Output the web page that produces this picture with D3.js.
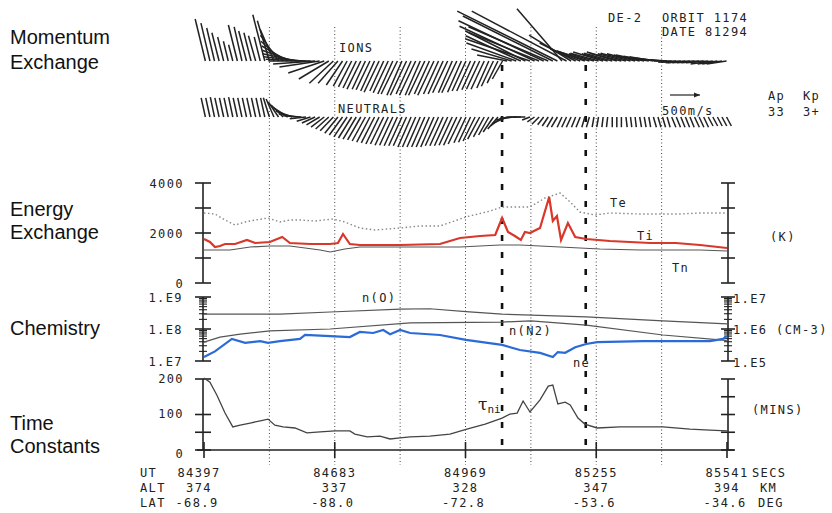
<!DOCTYPE html>
<html>
<head>
<meta charset="utf-8">
<script src="https://cdn.jsdelivr.net/npm/d3@7"></script>
<style>
  body { margin: 0; background: #fff; }
  svg text { font-family: "DejaVu Sans Mono", monospace; font-size: 12px; fill: #222; letter-spacing: 1.4px; }
  svg text.lab { font-family: "Liberation Sans", Arial, sans-serif; font-size: 20px; fill: #111; letter-spacing: 0; }
</style>
</head>
<body>
<svg id="chart" width="832" height="513"></svg>
<script>
// --- data ---
const utTicks = [84397, 84683, 84969, 85255, 85541];
const altLabels = ["374", "337", "328", "347", "394"];
const latLabels = ["-68.9", "-88.0", "-72.8", "-53.6", "-34.6"];
const gridTimes = [84540, 84683, 84826, 84969, 85112, 85255, 85398];
const boundTimes = [85049, 85232];

// velocity vectors (m/s), one every 10 s from 84400
const vecT0 = 84400, vecDt = 10;
const ionE = [-170,-150,-130,-120,-100,-80,-70,
  -150,-130,-130,-120,-120,-100,
  -200,-200,-230,
  -300,-370,-430,-500,-570,-630,-670,-700,-700,-670,
  -600,-500,-400,-330,-270,
  -230,-220,-220,-230,-220,-230,-230,-250,-230,-250,
  -250,-270,-250,-270,-250,-270,-250,-270,-250,-270,
  -250,-250,-250,-230,-250,-230,-230,-230,-220,-220,
  -220,-200,-200,-180,-170,
  -500,-670,-830,-920,-1000,-1080,-1250,-1170,-1420,-1330,-1500,-1670,-750,-1580,-700,-600,-500,
  -470,-500,-420,-470,-500,-430,-470,-500,-530,-470,-500,-470,-430,-470,-420,-400,-370,-330,
  -300,-300,-300,-330,-330,-370,-370,-370,-370,-370,-370,-330,-330,-330];
const ionN = [700,630,550,470,400,330,270,
  600,570,500,470,420,400,
  770,670,530,
  430,330,250,180,120,70,30,0,-50,-100,
  -200,-300,-370,-370,-400,
  -420,-430,-450,-470,-470,-480,-500,-520,-500,-530,
  -550,-550,-570,-570,-550,-570,-570,-570,-550,-570,
  -550,-550,-530,-530,-530,-520,-500,-500,-480,-470,
  -470,-450,-420,-370,-300,
  100,200,300,420,500,370,580,470,670,570,750,830,870,830,430,300,200,
  170,150,120,130,150,120,130,150,130,120,130,120,100,100,80,70,50,30,
  20,0,-20,-20,-30,-30,-30,-30,-30,-30,-50,-50,-50,-50];
const neuE = [-70,-70,-70,-70,-70,-70,-70,-70,-70,-70,-70,-70,-70,-70,
  -100,-130,-170,-200,-230,-270,-300,-300,
  -270,-230,
  -220,-220,-220,-220,-220,-220,-220,-220,-220,-220,-220,
  -220,-220,-220,-220,-220,-220,-220,-220,-220,-220,-220,
  -220,-220,-220,-220,-220,-220,-220,-220,-220,-220,-220,
  -200,-200,-200,-200,
  -180,-170,
  -170,-170,-200,-230,
  -270,-270,-230,-200,
  -130,-120,-120,-100,
  -100,-100,-100,-80,-80,-80,-70,-70,
  -50,-50,-30,-30,-20,-20,0,0,
  0,20,20,20,30,30,30,50,50,50,
  50,70,70,70,70,70,80,80,80,80,80,80,80,80];
const neuN = [320,320,330,320,320,320,330,320,320,320,320,320,320,320,
  320,300,250,200,150,100,50,20,
  -30,-70,-100,-130,-170,-200,-230,-270,-300,-330,-350,-370,-380,-400,-420,-430,-450,-450,-470,-470,-480,-480,-480,-500,
  -500,-500,-500,-500,-500,-480,-480,-480,-470,-470,-450,
  -430,-420,-400,-370,
  -330,-300,
  -250,-200,-150,-100,
  -50,-20,0,0,
  -50,-80,-120,-130,
  -150,-170,-170,-170,-170,-170,-170,-170,
  -170,-170,-170,-170,-170,-170,-170,-170,
  -170,-170,-170,-170,-170,-170,-170,-170,-170,-170,
  -170,-170,-170,-170,-170,-170,-170,-170,-170,-150,-150,-150,-150,-150];

// temperatures (K)
const tiT = [84397,84410,84421,84432,84443,84465,84491,84509,84541,84568,84585,84629,84673,84690,84701,84716,84738,84826,84913,84957,85001,85034,85049,85062,85077,85090,85099,85110,85123,85132,85152,85160,85169,85178,85193,85209,85233,85285,85373,85429,85482,85541];
const tiV = [1760,1640,1440,1480,1560,1560,1720,1600,1640,1840,1600,1560,1560,1600,1960,1560,1520,1520,1560,1800,1880,1920,2600,2040,1880,1720,2040,2000,2120,2200,3440,2480,2680,1720,2400,1840,1760,1680,1600,1600,1520,1400];
const teT = [84397,84421,84443,84465,84487,84509,84537,84563,84585,84607,84640,84679,84705,84738,84771,84826,84869,84913,84970,85023,85049,85110,85143,85176,85198,85219,85252,85285,85351,85438,85482,85541];
const teV = [2800,2760,2520,2320,2440,2520,2600,2440,2520,2520,2480,2560,2440,2200,2120,2200,2280,2280,2640,2880,3040,3040,3400,3600,3240,2840,2720,2800,2760,2760,2800,2800];
const tnT = [84397,84454,84498,84541,84585,84618,84651,84673,84705,84738,84826,84957,85044,85088,85176,85263,85351,85482,85541];
const tnV = [1320,1320,1440,1480,1480,1400,1320,1240,1360,1440,1440,1440,1520,1520,1440,1360,1320,1320,1280];

// densities (cm-3)
const noT = [84397,84563,84673,84826,84891,84970,85049,85233,85401,85541];
const noV = [2.9e8,2.9e8,3.4e8,4.2e8,4.3e8,3.5e8,2.9e8,2.4e8,1.8e8,1.45e8];
const nn2T = [84397,84432,84476,84541,84673,84848,85049,85112,85233,85401,85532,85541];
const nn2V = [3.9e7,5.6e7,6.9e7,8.7e7,1.0e8,1.55e8,1.65e8,1.8e8,1.33e8,6.5e7,4.5e7,4.3e7];
const neT = [84397,84421,84458,84487,84520,84537,84563,84607,84618,84673,84716,84738,84767,84789,84804,84826,84848,84913,84970,85049,85088,85132,85160,85171,85187,85209,85233,85257,85357,85504,85532,85541];
const neV = [1.33e5,2.0e5,4.9e5,3.7e5,4.2e5,3.7e5,4.2e5,4.9e5,6.5e5,6.0e5,5.6e5,8.1e5,7.5e5,9.3e5,6.9e5,9.3e5,7.5e5,6.5e5,4.6e5,3.2e5,2.2e5,1.8e5,1.33e5,1.9e5,1.8e5,2.7e5,3.4e5,3.9e5,4.2e5,4.2e5,4.9e5,6.0e5];

// ion-neutral time constant (mins)
const tauT = [84397,84410,84425,84443,84460,84476,84498,84520,84537,84552,84570,84596,84622,84651,84684,84716,84727,84754,84782,84804,84826,84848,84891,84935,84972,85012,85049,85066,85082,85095,85110,85132,85150,85160,85171,85187,85198,85215,85230,85257,85307,85401,85460,85504,85541];
const tauV = [203,191,155,104,65,70,76,82,87,70,65,62,48,51,54,54,45,37,39,31,34,37,39,45,59,73,90,101,104,138,107,141,180,183,130,135,127,90,73,62,65,65,59,56,54];

// --- scales ---
const svg = d3.select('#chart');
const x = d3.scaleLinear().domain([84397, 85541]).range([204, 727]);
const yT = d3.scaleLinear().domain([0, 4000]).range([283, 183]);
const yN = d3.scaleLog().domain([1e7, 1e9]).range([361, 297]);
const yNe = d3.scaleLog().domain([1e5, 1e7]).range([361, 297]);
const yTau = d3.scaleLinear().domain([0, 200]).range([450, 379]);
const vel = d3.scaleLinear().domain([0, 500]).range([0, 30]);

const ink = '#222';

// vertical reference lines
svg.append('g').selectAll('line').data(gridTimes).join('line')
  .attr('x1', d => x(d)).attr('x2', d => x(d))
  .attr('y1', 27).attr('y2', 465)
  .attr('stroke', '#444').attr('stroke-width', 1).attr('stroke-dasharray', '1,2.5');

svg.append('g').selectAll('line').data(boundTimes).join('line')
  .attr('x1', d => x(d)).attr('x2', d => x(d))
  .attr('y1', 65).attr('y2', 450)
  .attr('stroke', '#111').attr('stroke-width', 2.6).attr('stroke-dasharray', '6,11');

// stick plots
function sticks(E, N, base) {
  svg.append('g').selectAll('line').data(E).join('line')
    .attr('x1', (d, i) => x(vecT0 + i * vecDt))
    .attr('y1', base)
    .attr('x2', (d, i) => x(vecT0 + i * vecDt) + vel(d))
    .attr('y2', (d, i) => base - vel(N[i]))
    .attr('stroke', ink).attr('stroke-width', 1.5);
}
sticks(ionE, ionN, 61);
sticks(neuE, neuN, 117);

// 500 m/s scale arrow
const ax0 = 670;
svg.append('line').attr('x1', ax0).attr('x2', ax0 + vel(500)).attr('y1', 95).attr('y2', 95)
  .attr('stroke', ink).attr('stroke-width', 1.2);
svg.append('path').attr('d', `M${ax0 + vel(500)},95 l-6,-2.5 l0,5 z`).attr('fill', ink);

// axis helper: ticks cross the axis line
function vAxis(xp, scale, majors, minors, half) {
  const g = svg.append('g').attr('stroke', ink).attr('stroke-width', 1.6);
  const r = scale.range();
  g.append('line').attr('x1', xp).attr('x2', xp).attr('y1', r[0]).attr('y2', r[1]);
  g.selectAll('.mj').data(majors).join('line').attr('class', 'mj')
    .attr('x1', xp - half).attr('x2', xp + half)
    .attr('y1', d => scale(d)).attr('y2', d => scale(d));
  g.selectAll('.mn').data(minors).join('line').attr('class', 'mn')
    .attr('stroke-width', 1.1)
    .attr('x1', xp - 4).attr('x2', xp + 4)
    .attr('y1', d => scale(d)).attr('y2', d => scale(d));
}
const logMinor = [2e7,3e7,4e7,5e7,6e7,7e7,8e7,9e7,2e8,3e8,4e8,5e8,6e8,7e8,8e8,9e8];
vAxis(203, yT, [0, 1000, 2000, 3000, 4000], [], 8);
vAxis(728, yT, [0, 1000, 2000, 3000, 4000], [], 7);
vAxis(203, yN, [1e7, 1e8, 1e9], logMinor, 8);
vAxis(728, yN, [1e7, 1e8, 1e9], logMinor, 7);
vAxis(203, yTau, [0, 50, 100, 200], [], 8);
vAxis(728, yTau, [0, 50, 100, 150, 200], [], 7);

// time axis along bottom
const bx = svg.append('g').attr('stroke', ink).attr('stroke-width', 1.6);
bx.append('line').attr('x1', 197).attr('x2', 734).attr('y1', 450).attr('y2', 450);
bx.selectAll('.ut').data(utTicks).join('line').attr('class', 'ut')
  .attr('x1', d => x(d)).attr('x2', d => x(d)).attr('y1', 442).attr('y2', 458);

// data lines
const line = (sy) => d3.line().x(d => x(d[0])).y(d => sy(d[1]));
svg.append('path').datum(d3.zip(teT, teV)).attr('d', line(yT))
  .attr('fill', 'none').attr('stroke', '#888').attr('stroke-width', 1.4).attr('stroke-dasharray', '1.5,2.5');
svg.append('path').datum(d3.zip(tnT, tnV)).attr('d', line(yT))
  .attr('fill', 'none').attr('stroke', '#555').attr('stroke-width', 1.2);
svg.append('path').datum(d3.zip(tiT, tiV)).attr('d', line(yT))
  .attr('fill', 'none').attr('stroke', '#d8372a').attr('stroke-width', 2.2);

svg.append('path').datum(d3.zip(noT, noV)).attr('d', line(yN))
  .attr('fill', 'none').attr('stroke', '#555').attr('stroke-width', 1.2);
svg.append('path').datum(d3.zip(nn2T, nn2V)).attr('d', line(yN))
  .attr('fill', 'none').attr('stroke', '#555').attr('stroke-width', 1.2);
svg.append('path').datum(d3.zip(neT, neV)).attr('d', line(yNe))
  .attr('fill', 'none').attr('stroke', '#2a6bd8').attr('stroke-width', 2.2);

svg.append('path').datum(d3.zip(tauT, tauV)).attr('d', line(yTau))
  .attr('fill', 'none').attr('stroke', '#444').attr('stroke-width', 1.3);

// --- text ---
function txt(s, tx, ty, anchor) {
  return svg.append('text').attr('x', tx).attr('y', ty).attr('text-anchor', anchor || 'start').text(s);
}
// section labels
[["Momentum", 44], ["Exchange", 69], ["Energy", 216], ["Exchange", 239],
 ["Chemistry", 335], ["Time", 430], ["Constants", 453]].forEach(([s, ty]) =>
  svg.append('text').attr('class', 'lab').attr('x', 10).attr('y', ty).text(s));

txt("DE-2", 608, 22); txt("ORBIT 1174", 662, 22); txt("DATE 81294", 662, 36);
txt("IONS", 339, 52); txt("NEUTRALS", 338, 113);
txt("500m/s", 662, 115);
txt("Ap", 768, 100); txt("Kp", 803, 100); txt("33", 768, 116); txt("3+", 803, 116);

// energy
txt("4000", 184, yT(4000) + 5, 'end'); txt("2000", 184, yT(2000) + 5, 'end'); txt("0", 184, yT(0) + 5, 'end');
txt("Te", 610, 207); txt("Ti", 637, 240); txt("Tn", 672, 272); txt("(K)", 770, 241);

// chemistry
txt("1.E9", 183, yN(1e9) + 5, 'end'); txt("1.E8", 183, yN(1e8) + 5, 'end'); txt("1.E7", 183, yN(1e7) + 5, 'end');
txt("1.E7", 733, yNe(1e7) + 6); txt("1.E6 (CM-3)", 733, yNe(1e6) + 5); txt("1.E5", 733, yNe(1e5) + 6);
txt("n(O)", 362, 302); txt("n(N2)", 509, 335); txt("ne", 573, 367);

// time constants
txt("200", 184, yTau(200) + 4, 'end'); txt("100", 184, yTau(100) + 3, 'end'); txt("0", 184, yTau(0) + 8, 'end');
txt("(MINS)", 752, 414);
const tau = svg.append('text').attr('x', 478).attr('y', 410).style('letter-spacing', '0');
tau.append('tspan').style('font-size', '17px').style('font-family', '"DejaVu Serif", serif').text('τ');
tau.append('tspan').attr('dy', 3).style('font-size', '11px').text('ni');

// bottom rows
txt("UT", 140, 477); txt("ALT", 140, 492); txt("LAT", 140, 507);
utTicks.forEach((t, i) => {
  const cx = x(t) - (i === 0 ? 5 : 0);
  txt(String(t), cx, 477, 'middle');
  txt(altLabels[i], cx, 492, 'middle');
  txt(latLabels[i], cx - 2, 507, 'middle');
});
txt("SECS", 752, 477); txt("KM", 760, 492); txt("DEG", 758, 507);
</script>
</body>
</html>
